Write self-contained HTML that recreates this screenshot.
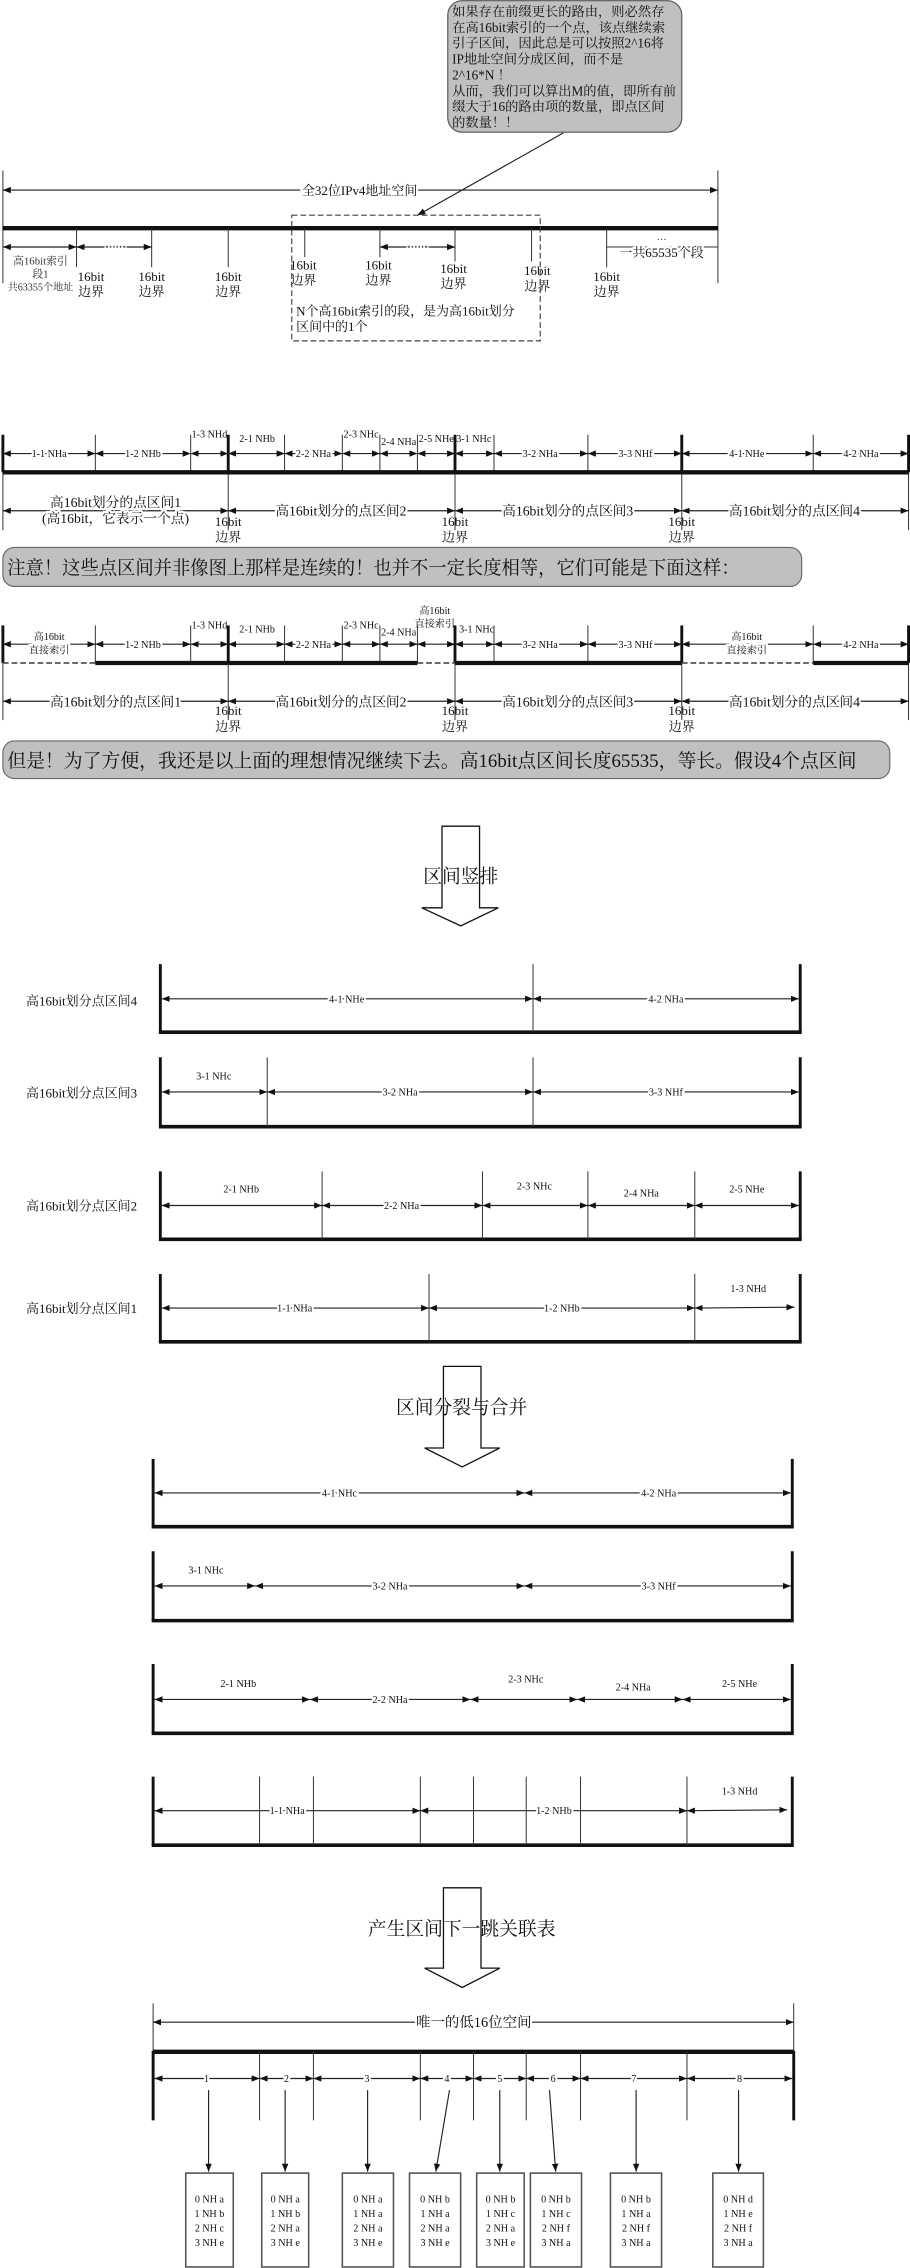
<!DOCTYPE html>
<html><head><meta charset="utf-8"><style>
html,body{margin:0;padding:0;background:#fff;width:910px;height:2268px;overflow:hidden}
svg{display:block}
text{font-family:"Liberation Serif","Noto Serif CJK SC","Noto Sans CJK SC",serif;fill:#111}
.s{font-size:7px;fill:#333}
.h{paint-order:stroke;stroke:#fff;stroke-width:3px;stroke-linejoin:round}
.m{font-size:9px}
.c{font-size:9.2px}
.big{font-size:13px}
.mono{font-family:"Liberation Mono",monospace;font-size:7px;fill:#222}
.d{stroke:#222;stroke-width:.8;marker-start:url(#a);marker-end:url(#a);fill:none}
.e{stroke:#222;stroke-width:.8;marker-end:url(#a);fill:none}
.t{stroke:#333;stroke-width:.7}
.k{stroke:#111;stroke-width:2}
.kk{stroke:#111;stroke-width:3}
</style></head><body>
<svg width="910" height="2268" viewBox="0 0 630 1570.2" preserveAspectRatio="none" xmlns="http://www.w3.org/2000/svg">
<defs><marker id="a" viewBox="0 0 10 10" refX="10" refY="5" markerWidth="5.5" markerHeight="5.5" markerUnits="userSpaceOnUse" orient="auto-start-reverse"><path d="M0,1 L10,5 L0,9z" fill="#111"/></marker></defs>

<!-- SECTION 1 -->
<rect x="310" y="0.5" width="162" height="91" rx="10" fill="#c0c0c0" stroke="#555" stroke-width=".8"/>
<text class="c" x="313" y="11">如果存在前缀更长的路由，则必然存</text>
<text class="c" x="313" y="22">在高16bit索引的一个点，该点继续索</text>
<text class="c" x="313" y="33">引子区间，因此总是可以按照2^16将</text>
<text class="c" x="313" y="44">IP地址空间分成区间，而不是</text>
<text class="c" x="313" y="55">2^16*N ！</text>
<text class="c" x="313" y="66">从而，我们可以算出M的值，即所有前</text>
<text class="c" x="313" y="77">缀大于16的路由项的数量，即点区间</text>
<text class="c" x="313" y="88">的数量！！</text>
<line class="e" x1="390" y1="92" x2="289" y2="149"/>

<line class="t" x1="2" y1="118" x2="2" y2="196"/>
<line class="t" x1="497" y1="118" x2="497" y2="196"/>
<line class="d" x1="2" y1="131.6" x2="497" y2="131.6"/>
<text class="m h" x="249" y="135" text-anchor="middle">全32位IPv4地址空间</text>
<line class="kk" x1="2" y1="158" x2="497" y2="158"/>
<g class="t"><line x1="53" y1="158" x2="53" y2="185"/><line x1="105" y1="158" x2="105" y2="185"/><line x1="158" y1="158" x2="158" y2="185"/><line x1="211" y1="158" x2="211" y2="178"/><line x1="263" y1="158" x2="263" y2="178"/><line x1="315" y1="158" x2="315" y2="181"/><line x1="368" y1="158" x2="368" y2="181"/><line x1="420" y1="158" x2="420" y2="185"/></g>
<line class="d" x1="2" y1="171" x2="53" y2="171"/>
<line class="d" x1="53" y1="171" x2="105" y2="171"/>
<line class="d" x1="263" y1="171" x2="315" y2="171"/>
<text class="s h" x="80" y="171" text-anchor="middle">……</text>
<text class="s h" x="289" y="171" text-anchor="middle">……</text>
<text class="s" x="28" y="183" text-anchor="middle" style="font-size:7.5px">高16bit索引</text>
<text class="s" x="28" y="192" text-anchor="middle" style="font-size:7.5px">段1</text>
<text class="s" x="28" y="201" text-anchor="middle" style="font-size:7px">共63355个地址</text>
<g class="m" text-anchor="middle">
<text x="63" y="194.5">16bit</text><text x="63" y="205">边界</text>
<text x="105" y="194.5">16bit</text><text x="105" y="205">边界</text>
<text x="158" y="194.5">16bit</text><text x="158" y="205">边界</text>
<text x="210" y="186.5">16bit</text><text x="210" y="197">边界</text>
<text x="262" y="186.5">16bit</text><text x="262" y="197">边界</text>
<text x="314" y="189">16bit</text><text x="314" y="199.5">边界</text>
<text x="372" y="190.5">16bit</text><text x="372" y="201">边界</text>
<text x="420" y="194.5">16bit</text><text x="420" y="205">边界</text>
</g>
<line class="t" x1="420" y1="171" x2="497" y2="171"/>
<text class="s" x="458" y="166" text-anchor="middle">…</text>
<text class="m h" x="458" y="178" text-anchor="middle">一共65535个段</text>
<rect x="202" y="149" width="172" height="87" fill="none" stroke="#444" stroke-width=".8" stroke-dasharray="4 2"/>
<text class="m" x="205" y="218.5">N个高16bit索引的段，是为高16bit划分</text>
<text class="m" x="205" y="229">区间中的1个</text>

<!-- SECTION 2 ruler 1 -->
<g class="t">
<line x1="66" y1="301" x2="66" y2="327"/><line x1="132" y1="301" x2="132" y2="327"/><line x1="197" y1="301" x2="197" y2="327"/><line x1="237" y1="301" x2="237" y2="327"/><line x1="263" y1="301" x2="263" y2="327"/><line x1="289" y1="301" x2="289" y2="327"/><line x1="342" y1="301" x2="342" y2="327"/><line x1="407" y1="301" x2="407" y2="327"/><line x1="563" y1="301" x2="563" y2="327"/>
<line x1="158" y1="327" x2="158" y2="367"/><line x1="315" y1="327" x2="315" y2="367"/><line x1="472" y1="327" x2="472" y2="367"/><line x1="2" y1="327" x2="2" y2="367"/><line x1="629" y1="327" x2="629" y2="367"/>
</g>
<g class="k"><line x1="2" y1="301" x2="2" y2="327"/><line x1="158" y1="301" x2="158" y2="327"/><line x1="315" y1="301" x2="315" y2="327"/><line x1="472" y1="301" x2="472" y2="327"/><line x1="629" y1="301" x2="629" y2="327"/></g>
<line class="kk" x1="2" y1="327" x2="629" y2="327"/>
<line class="d" x1="2" y1="314" x2="66" y2="314"/><line class="d" x1="66" y1="314" x2="132" y2="314"/><line class="d" x1="132" y1="314" x2="158" y2="314"/><line class="d" x1="158" y1="314" x2="197" y2="314"/><line class="d" x1="197" y1="314" x2="237" y2="314"/><line class="d" x1="237" y1="314" x2="263" y2="314"/><line class="d" x1="263" y1="314" x2="289" y2="314"/><line class="d" x1="289" y1="314" x2="315" y2="314"/><line class="d" x1="315" y1="314" x2="342" y2="314"/><line class="d" x1="342" y1="314" x2="407" y2="314"/><line class="d" x1="407" y1="314" x2="472" y2="314"/><line class="d" x1="472" y1="314" x2="563" y2="314"/><line class="d" x1="563" y1="314" x2="629" y2="314"/>
<g class="s" text-anchor="middle">
<text class="h" x="34" y="316.5">1-1 NHa</text><text class="h" x="99" y="316.5">1-2 NHb</text><text x="145" y="303">1-3 NHd</text><text x="178" y="306">2-1 NHb</text><text class="h" x="217" y="316.5">2-2 NHa</text><text x="250" y="303">2-3 NHc</text><text x="276" y="308">2-4 NHa</text><text x="302" y="306">2-5 NHe</text><text x="328" y="306">3-1 NHc</text><text class="h" x="374" y="316.5">3-2 NHa</text><text class="h" x="440" y="316.5">3-3 NHf</text><text class="h" x="517" y="316.5">4-1 NHe</text><text class="h" x="596" y="316.5">4-2 NHa</text>
</g>
<line class="d" x1="2" y1="353.6" x2="158" y2="353.6"/><line class="d" x1="158" y1="353.6" x2="315" y2="353.6"/><line class="d" x1="315" y1="353.6" x2="472" y2="353.6"/><line class="d" x1="472" y1="353.6" x2="629" y2="353.6"/>
<g class="m" text-anchor="middle" style="font-size:9.5px">
<text class="h" x="80" y="351">高16bit划分的点区间1</text><text class="h" x="80" y="362">(高16bit，它表示一个点)</text>
<text class="h" x="236" y="357">高16bit划分的点区间2</text><text class="h" x="393" y="357">高16bit划分的点区间3</text><text class="h" x="550" y="357">高16bit划分的点区间4</text>
</g>
<g class="m" text-anchor="middle"><text x="158" y="364">16bit</text><text x="158" y="375">边界</text><text x="315" y="364">16bit</text><text x="315" y="375">边界</text><text x="472" y="364">16bit</text><text x="472" y="375">边界</text></g>
<rect x="2" y="379" width="553" height="27" rx="8" fill="#c0c0c0" stroke="#666" stroke-width=".8"/>
<text class="big" x="5" y="397.5" textLength="507" lengthAdjust="spacingAndGlyphs">注意！这些点区间并非像图上那样是连续的！也并不一定长度相等，它们可能是下面这样：</text>

<!-- ruler 3 -->
<g class="t">
<line x1="66" y1="433" x2="66" y2="459"/><line x1="132" y1="433" x2="132" y2="459"/><line x1="197" y1="433" x2="197" y2="459"/><line x1="237" y1="433" x2="237" y2="459"/><line x1="263" y1="433" x2="263" y2="459"/><line x1="289" y1="433" x2="289" y2="459"/><line x1="342" y1="433" x2="342" y2="459"/><line x1="407" y1="433" x2="407" y2="459"/><line x1="563" y1="433" x2="563" y2="459"/>
<line x1="158" y1="459" x2="158" y2="498.5"/><line x1="315" y1="459" x2="315" y2="498.5"/><line x1="472" y1="459" x2="472" y2="498.5"/><line x1="2" y1="459" x2="2" y2="498.5"/><line x1="629" y1="459" x2="629" y2="498.5"/>
</g>
<g class="k"><line x1="2" y1="433" x2="2" y2="459"/><line x1="158" y1="433" x2="158" y2="459"/><line x1="315" y1="433" x2="315" y2="459"/><line x1="472" y1="433" x2="472" y2="459"/><line x1="629" y1="433" x2="629" y2="459"/></g>
<g stroke="#555" stroke-width="1.2" stroke-dasharray="4 2"><line x1="2" y1="459" x2="66" y2="459"/><line x1="289" y1="459" x2="315" y2="459"/><line x1="472" y1="459" x2="563" y2="459"/></g>
<g class="kk"><line x1="66" y1="459" x2="289" y2="459"/><line x1="315" y1="459" x2="472" y2="459"/><line x1="563" y1="459" x2="629" y2="459"/></g>
<line class="d" x1="2" y1="446" x2="66" y2="446"/><line class="d" x1="66" y1="446" x2="132" y2="446"/><line class="d" x1="132" y1="446" x2="158" y2="446"/><line class="d" x1="158" y1="446" x2="197" y2="446"/><line class="d" x1="197" y1="446" x2="237" y2="446"/><line class="d" x1="237" y1="446" x2="263" y2="446"/><line class="d" x1="263" y1="446" x2="289" y2="446"/><line class="d" x1="289" y1="446" x2="315" y2="446"/><line class="d" x1="315" y1="446" x2="342" y2="446"/><line class="d" x1="342" y1="446" x2="407" y2="446"/><line class="d" x1="407" y1="446" x2="472" y2="446"/><line class="d" x1="472" y1="446" x2="563" y2="446"/><line class="d" x1="563" y1="446" x2="629" y2="446"/>
<g class="s" text-anchor="middle">
<text class="h" x="34" y="443">高16bit</text><text class="h" x="34" y="452.5">直接索引</text>
<text class="h" x="99" y="448.5">1-2 NHb</text><text x="145" y="435">1-3 NHd</text><text x="178" y="438">2-1 NHb</text><text class="h" x="217" y="448.5">2-2 NHa</text><text x="250" y="435">2-3 NHc</text><text x="276" y="440">2-4 NHa</text>
<text x="301" y="425">高16bit</text><text x="301" y="434">直接索引</text>
<text x="330" y="438">3-1 NHc</text><text class="h" x="374" y="448.5">3-2 NHa</text><text class="h" x="440" y="448.5">3-3 NHf</text>
<text class="h" x="517" y="443">高16bit</text><text class="h" x="517" y="452.5">直接索引</text><text class="h" x="596" y="448.5">4-2 NHa</text>
</g>
<line class="d" x1="2" y1="485.5" x2="158" y2="485.5"/><line class="d" x1="158" y1="485.5" x2="315" y2="485.5"/><line class="d" x1="315" y1="485.5" x2="472" y2="485.5"/><line class="d" x1="472" y1="485.5" x2="629" y2="485.5"/>
<g class="m" text-anchor="middle" style="font-size:9.5px"><text class="h" x="80" y="489">高16bit划分的点区间1</text><text class="h" x="236" y="489">高16bit划分的点区间2</text><text class="h" x="393" y="489">高16bit划分的点区间3</text><text class="h" x="550" y="489">高16bit划分的点区间4</text></g>
<g class="m" text-anchor="middle"><text x="158" y="495">16bit</text><text x="158" y="506">边界</text><text x="315" y="495">16bit</text><text x="315" y="506">边界</text><text x="472" y="495">16bit</text><text x="472" y="506">边界</text></g>
<rect x="2" y="513" width="614" height="26" rx="8" fill="#c0c0c0" stroke="#666" stroke-width=".8"/>
<text class="big" x="5" y="531" textLength="588" lengthAdjust="spacingAndGlyphs">但是！为了方便，我还是以上面的理想情况继续下去。高16bit点区间长度65535，等长。假设4个点区间</text>

<!-- SECTION 3 -->
<polygon points="306,572 332,572 332,628.5 345,628.5 319,641 292,628.5 306,628.5" fill="#fff" stroke="#111" stroke-width=".9"/>
<text class="big" x="319" y="611" text-anchor="middle">区间竖排</text>
<g class="k"><line x1="111" y1="667.5" x2="111" y2="714.6"/><line x1="554" y1="667.5" x2="554" y2="714.6"/><line x1="111" y1="732" x2="111" y2="780"/><line x1="554" y1="732" x2="554" y2="780"/><line x1="111" y1="811" x2="111" y2="858"/><line x1="554" y1="811" x2="554" y2="858"/><line x1="111" y1="882" x2="111" y2="929"/><line x1="554" y1="882" x2="554" y2="929"/></g>
<g stroke="#111" stroke-width="2.5"><line x1="110" y1="714.6" x2="555" y2="714.6"/><line x1="110" y1="780" x2="555" y2="780"/><line x1="110" y1="858" x2="555" y2="858"/><line x1="110" y1="929" x2="555" y2="929"/></g>
<g class="t"><line x1="369" y1="667.5" x2="369" y2="714.6"/><line x1="185" y1="732" x2="185" y2="780"/><line x1="369" y1="732" x2="369" y2="780"/><line x1="223" y1="811" x2="223" y2="858"/><line x1="334" y1="811" x2="334" y2="858"/><line x1="407" y1="811" x2="407" y2="858"/><line x1="481" y1="811" x2="481" y2="858"/><line x1="297" y1="882" x2="297" y2="929"/><line x1="481" y1="882" x2="481" y2="929"/></g>
<line class="d" x1="112" y1="691.5" x2="369" y2="691.5"/><line class="d" x1="369" y1="691.5" x2="553" y2="691.5"/>
<line class="d" x1="112" y1="756" x2="185" y2="756"/><line class="d" x1="185" y1="756" x2="369" y2="756"/><line class="d" x1="369" y1="756" x2="553" y2="756"/>
<line class="d" x1="112" y1="834.6" x2="223" y2="834.6"/><line class="d" x1="223" y1="834.6" x2="334" y2="834.6"/><line class="d" x1="334" y1="834.6" x2="407" y2="834.6"/><line class="d" x1="407" y1="834.6" x2="481" y2="834.6"/><line class="d" x1="481" y1="834.6" x2="553" y2="834.6"/>
<line class="d" x1="112" y1="905.6" x2="297" y2="905.6"/><line class="d" x1="297" y1="905.6" x2="481" y2="905.6"/><line class="d" x1="481" y1="905.6" x2="550" y2="905"/>
<g class="s" text-anchor="middle">
<text class="h" x="240" y="694">4-1 NHe</text><text class="h" x="461" y="694">4-2 NHa</text>
<text x="148" y="747.5">3-1 NHc</text><text class="h" x="277" y="758.5">3-2 NHa</text><text class="h" x="461" y="758.5">3-3 NHf</text>
<text x="167" y="825.5">2-1 NHb</text><text class="h" x="278" y="837">2-2 NHa</text><text x="370" y="823.5">2-3 NHc</text><text x="444" y="828.5">2-4 NHa</text><text x="517" y="825.5">2-5 NHe</text>
<text class="h" x="204" y="908">1-1 NHa</text><text class="h" x="389" y="908">1-2 NHb</text><text x="518" y="894.5">1-3 NHd</text>
</g>
<g class="m"><text x="18" y="696">高16bit划分点区间4</text><text x="18" y="760">高16bit划分点区间3</text><text x="18" y="838">高16bit划分点区间2</text><text x="18" y="909">高16bit划分点区间1</text></g>

<!-- SECTION 4 -->
<polygon points="307,946 333,946 333,1002.5 346,1002.5 320,1015.6 294,1002.5 307,1002.5" fill="#fff" stroke="#111" stroke-width=".9"/>
<text class="big" x="319.6" y="978.5" text-anchor="middle">区间分裂与合并</text>
<g class="k"><line x1="106" y1="1010" x2="106" y2="1057"/><line x1="548.5" y1="1010" x2="548.5" y2="1057"/><line x1="106" y1="1074" x2="106" y2="1122"/><line x1="548.5" y1="1074" x2="548.5" y2="1122"/><line x1="106" y1="1152" x2="106" y2="1200"/><line x1="548.5" y1="1152" x2="548.5" y2="1200"/><line x1="106" y1="1230" x2="106" y2="1277.5"/><line x1="548.5" y1="1230" x2="548.5" y2="1277.5"/></g>
<g stroke="#111" stroke-width="2.5"><line x1="105" y1="1057" x2="549.5" y2="1057"/><line x1="105" y1="1122" x2="549.5" y2="1122"/><line x1="105" y1="1200" x2="549.5" y2="1200"/><line x1="105" y1="1277.5" x2="549.5" y2="1277.5"/></g>
<g class="t"><line x1="179.7" y1="1230" x2="179.7" y2="1277.5"/><line x1="217" y1="1230" x2="217" y2="1277.5"/><line x1="291" y1="1230" x2="291" y2="1277.5"/><line x1="327.8" y1="1230" x2="327.8" y2="1277.5"/><line x1="364.3" y1="1230" x2="364.3" y2="1277.5"/><line x1="401.9" y1="1230" x2="401.9" y2="1277.5"/><line x1="475.6" y1="1230" x2="475.6" y2="1277.5"/></g>
<line class="d" x1="107" y1="1033.6" x2="363" y2="1033.6"/><line class="d" x1="363" y1="1033.6" x2="547.5" y2="1033.6"/>
<line class="d" x1="107" y1="1098" x2="176.6" y2="1098"/><line class="d" x1="176.6" y1="1098" x2="363" y2="1098"/><line class="d" x1="363" y1="1098" x2="547.5" y2="1098"/>
<line class="d" x1="107" y1="1176.6" x2="214.6" y2="1176.6"/><line class="d" x1="214.6" y1="1176.6" x2="325.7" y2="1176.6"/><line class="d" x1="325.7" y1="1176.6" x2="399.6" y2="1176.6"/><line class="d" x1="399.6" y1="1176.6" x2="472.6" y2="1176.6"/><line class="d" x1="472.6" y1="1176.6" x2="547.5" y2="1176.6"/>
<line class="d" x1="107" y1="1253.6" x2="291" y2="1253.6"/><line class="d" x1="291" y1="1253.6" x2="475.6" y2="1253.6"/><line class="d" x1="475.6" y1="1253.6" x2="545" y2="1253"/>
<g class="s" text-anchor="middle">
<text class="h" x="235" y="1036">4-1 NHc</text><text class="h" x="456" y="1036">4-2 NHa</text>
<text x="142.6" y="1089.5">3-1 NHc</text><text class="h" x="270" y="1100.5">3-2 NHa</text><text class="h" x="456" y="1100.5">3-3 NHf</text>
<text x="165" y="1168">2-1 NHb</text><text class="h" x="270" y="1179">2-2 NHa</text><text x="364" y="1165">2-3 NHc</text><text x="438.4" y="1170.5">2-4 NHa</text><text x="512" y="1168">2-5 NHe</text>
<text class="h" x="198.8" y="1256">1-1 NHa</text><text class="h" x="383.5" y="1256">1-2 NHb</text><text x="512" y="1242.5">1-3 NHd</text>
</g>

<!-- SECTION 5 -->
<polygon points="307,1307 333,1307 333,1362.6 346,1362.6 320,1376 294,1362.6 307,1362.6" fill="#fff" stroke="#111" stroke-width=".9"/>
<text class="big" x="319.6" y="1339.5" text-anchor="middle">产生区间下一跳关联表</text>
<g class="t"><line x1="106" y1="1387" x2="106" y2="1420"/><line x1="549.5" y1="1387" x2="549.5" y2="1420"/></g>
<g class="k"><line x1="106" y1="1420" x2="106" y2="1468"/><line x1="549.5" y1="1420" x2="549.5" y2="1468"/></g>
<line class="d" x1="106" y1="1400" x2="549.5" y2="1400"/>
<text class="m h" x="328" y="1403.5" text-anchor="middle" style="font-size:10px">唯一的低16位空间</text>
<line class="kk" x1="106" y1="1420.5" x2="549.5" y2="1420.5"/>
<g class="t"><line x1="179.7" y1="1420" x2="179.7" y2="1468"/><line x1="217" y1="1420" x2="217" y2="1468"/><line x1="291" y1="1420" x2="291" y2="1468"/><line x1="327.8" y1="1420" x2="327.8" y2="1468"/><line x1="364.3" y1="1420" x2="364.3" y2="1468"/><line x1="401.9" y1="1420" x2="401.9" y2="1468"/><line x1="475.6" y1="1420" x2="475.6" y2="1468"/></g>
<line class="d" x1="107" y1="1439" x2="179.7" y2="1439"/><line class="d" x1="179.7" y1="1439" x2="217" y2="1439"/><line class="d" x1="217" y1="1439" x2="291" y2="1439"/><line class="d" x1="291" y1="1439" x2="327.8" y2="1439"/><line class="d" x1="327.8" y1="1439" x2="364.3" y2="1439"/><line class="d" x1="364.3" y1="1439" x2="401.9" y2="1439"/><line class="d" x1="401.9" y1="1439" x2="475.6" y2="1439"/><line class="d" x1="475.6" y1="1439" x2="548.5" y2="1439"/>
<g class="s h" text-anchor="middle" style="fill:#777"><text x="143" y="1441.5">1</text><text x="198.4" y="1441.5">2</text><text x="254" y="1441.5">3</text><text x="309.4" y="1441.5">4</text><text x="346" y="1441.5">5</text><text x="383" y="1441.5">6</text><text x="438.8" y="1441.5">7</text><text x="512" y="1441.5">8</text></g>
<line class="e" x1="144.4" y1="1447" x2="144.4" y2="1503.5"/><line class="e" x1="197.4" y1="1447" x2="197.4" y2="1503.5"/><line class="e" x1="254.5" y1="1447" x2="254.5" y2="1503.5"/><line class="e" x1="311.2" y1="1447" x2="301.7" y2="1503.5"/><line class="e" x1="346" y1="1447" x2="346" y2="1503.5"/><line class="e" x1="380.4" y1="1447" x2="384.7" y2="1503.5"/><line class="e" x1="440.4" y1="1447" x2="440.4" y2="1503.5"/><line class="e" x1="511.3" y1="1447" x2="511.3" y2="1503.5"/>
<g fill="#fff" stroke="#555" stroke-width="1.1"><rect x="128.6" y="1504.5" width="32.9" height="65"/><rect x="181.2" y="1504.5" width="32.5" height="65"/><rect x="237" y="1504.5" width="35.4" height="65"/><rect x="283.5" y="1504.5" width="35.4" height="65"/><rect x="330" y="1504.5" width="32.9" height="65"/><rect x="367.2" y="1504.5" width="35.4" height="65"/><rect x="422.6" y="1504.5" width="35.4" height="65"/><rect x="493.5" y="1504.5" width="35" height="65"/></g>
<g class="mono" text-anchor="middle">
<text x="145" y="1525">0 NH a</text><text x="145" y="1535">1 NH b</text><text x="145" y="1545">2 NH c</text><text x="145" y="1555">3 NH e</text>
<text x="197.5" y="1525">0 NH a</text><text x="197.5" y="1535">1 NH b</text><text x="197.5" y="1545">2 NH a</text><text x="197.5" y="1555">3 NH e</text>
<text x="254.7" y="1525">0 NH a</text><text x="254.7" y="1535">1 NH a</text><text x="254.7" y="1545">2 NH a</text><text x="254.7" y="1555">3 NH e</text>
<text x="301.2" y="1525">0 NH b</text><text x="301.2" y="1535">1 NH a</text><text x="301.2" y="1545">2 NH a</text><text x="301.2" y="1555">3 NH e</text>
<text x="346.5" y="1525">0 NH b</text><text x="346.5" y="1535">1 NH c</text><text x="346.5" y="1545">2 NH a</text><text x="346.5" y="1555">3 NH e</text>
<text x="384.9" y="1525">0 NH b</text><text x="384.9" y="1535">1 NH c</text><text x="384.9" y="1545">2 NH f</text><text x="384.9" y="1555">3 NH a</text>
<text x="440.3" y="1525">0 NH b</text><text x="440.3" y="1535">1 NH a</text><text x="440.3" y="1545">2 NH f</text><text x="440.3" y="1555">3 NH a</text>
<text x="511" y="1525">0 NH d</text><text x="511" y="1535">1 NH e</text><text x="511" y="1545">2 NH f</text><text x="511" y="1555">3 NH a</text>
</g>
</svg>
</body></html>
